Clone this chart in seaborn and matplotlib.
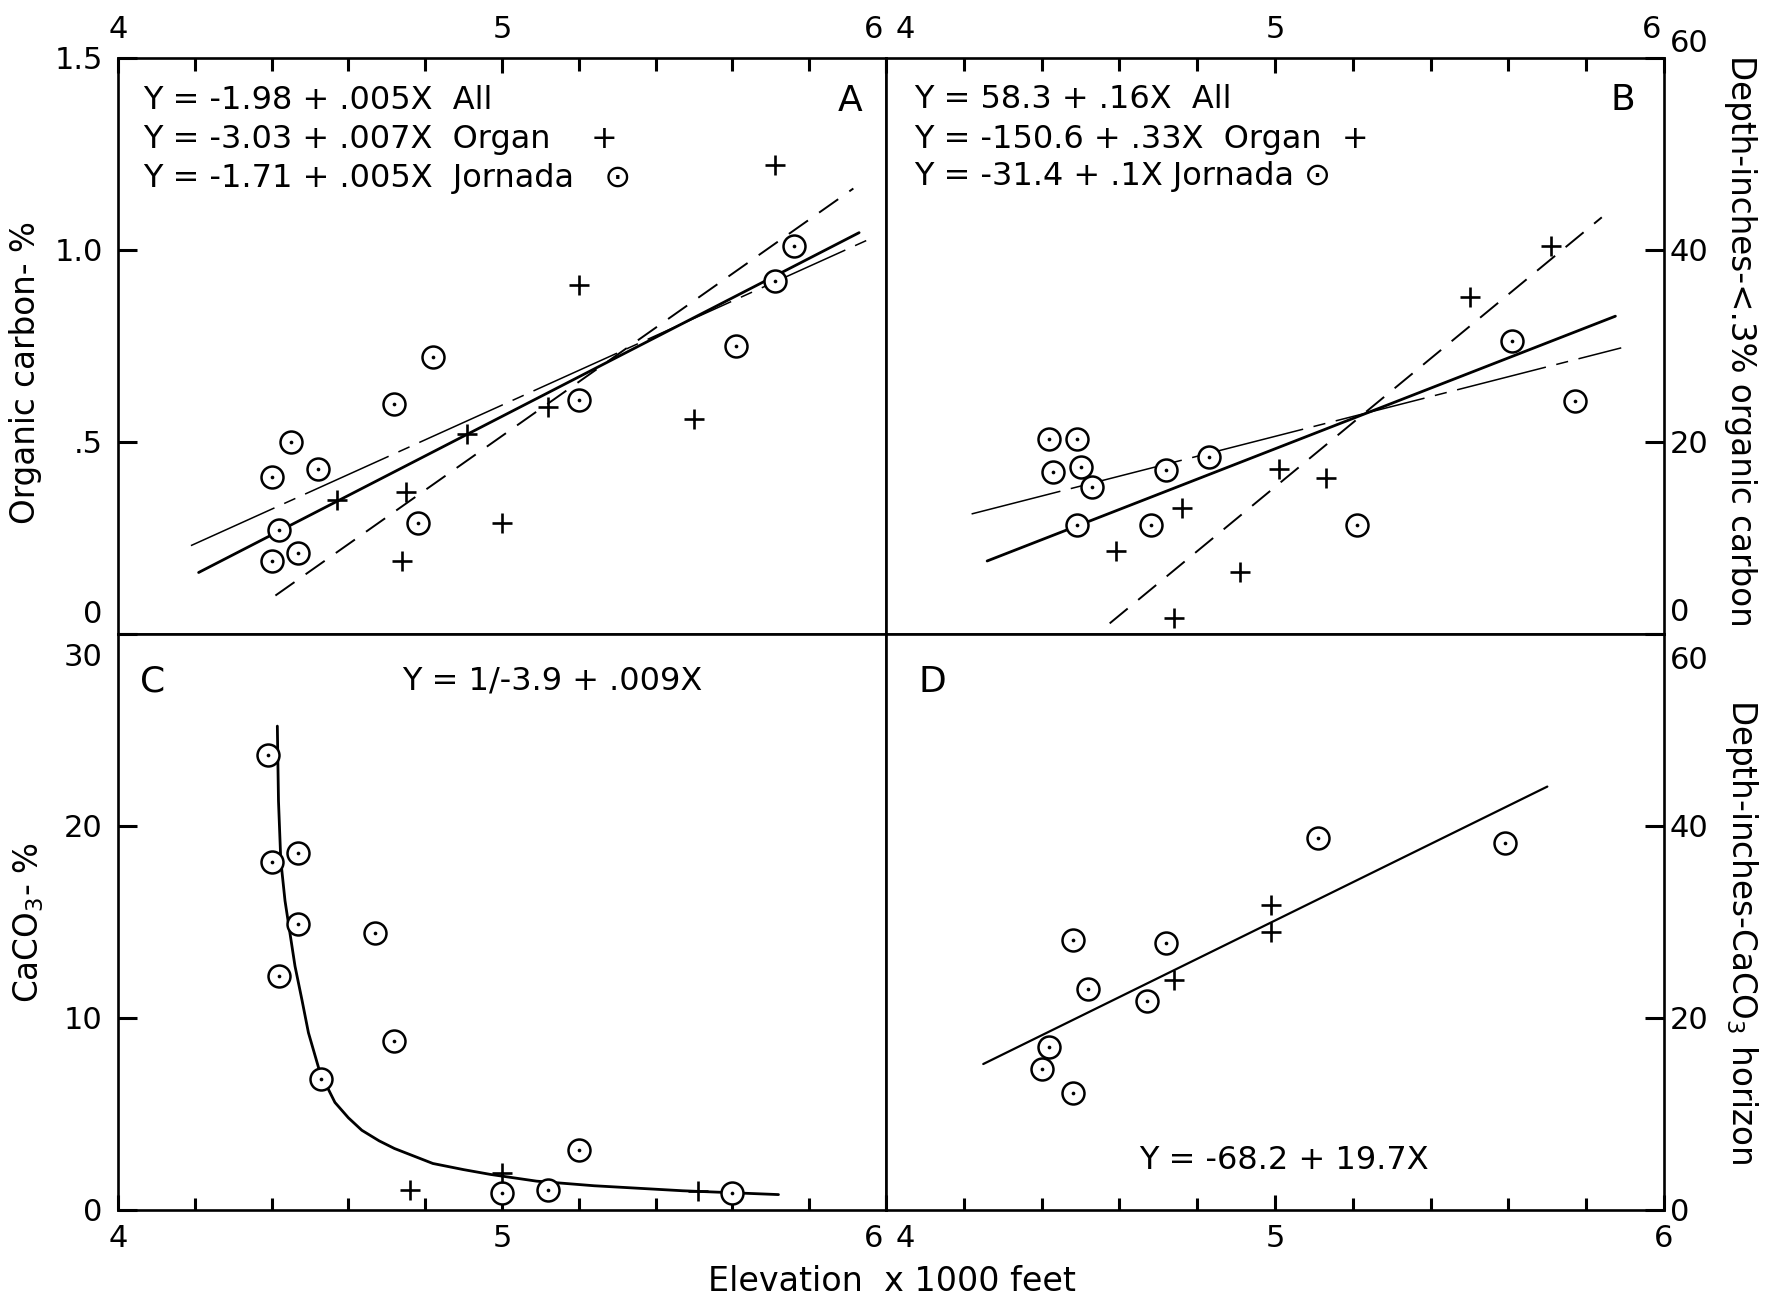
import matplotlib
matplotlib.use("Agg")
import matplotlib.pyplot as plt
from matplotlib.transforms import ScaledTranslation
import seaborn as sns

# ------------------------------------------------------------------ data
elev_major = [4, 5, 6]
elev_labels = ["4", "5", "6"]
elev_minor = [4.2, 4.4, 4.6, 4.8, 5.2, 5.4, 5.6, 5.8]

# Panel A  - organic carbon (%)
a_jor_x = [4.40, 4.45, 4.52, 4.42, 4.40, 4.47, 4.72, 4.82, 4.78, 5.20, 5.61, 5.71, 5.76]
a_jor_y = [0.41, 0.50, 0.43, 0.27, 0.19, 0.21, 0.60, 0.72, 0.29, 0.61, 0.75, 0.92, 1.01]
a_org_x = [4.57, 4.75, 4.74, 4.91, 5.00, 5.12, 5.20, 5.50, 5.71]
a_org_y = [0.35, 0.37, 0.19, 0.52, 0.29, 0.59, 0.91, 0.56, 1.22]
a_all_fit_x = [4.21, 5.93]
a_all_fit_y = [0.16, 1.045]
a_org_fit_x = [4.41, 5.915]
a_org_fit_y = [0.10, 1.16]
a_jor_fit_x = [4.19, 5.95]
a_jor_fit_y = [0.23, 1.025]
a_yticks = [0, 0.5, 1.0, 1.5]
a_ylabels = ["0", ".5", "1.0", "1.5"]

# Panel B  - depth (inches) to <.3% organic carbon
b_jor_x = [4.42, 4.49, 4.43, 4.50, 4.53, 4.49, 4.72, 4.83, 4.68, 5.21, 5.61, 5.77]
b_jor_y = [20.3, 20.3, 16.9, 17.4, 15.3, 11.3, 17.1, 18.4, 11.3, 11.3, 30.5, 24.3]
b_org_x = [4.59, 4.76, 4.91, 4.74, 5.01, 5.13, 5.50, 5.71]
b_org_y = [8.6, 13.1, 6.5, 1.7, 17.2, 16.2, 35.1, 40.4]
b_all_fit_x = [4.26, 5.875]
b_all_fit_y = [7.6, 33.1]
b_org_fit_x = [4.575, 5.84]
b_org_fit_y = [1.1, 43.4]
b_jor_fit_x = [4.22, 5.89]
b_jor_fit_y = [12.5, 29.8]
b_yticks = [0, 20, 40, 60]
b_ylabels = ["0", "20", "40", "60"]

# Panel C  - CaCO3 (%)
c_jor_x = [4.39, 4.40, 4.47, 4.47, 4.42, 4.67, 4.72, 4.53, 5.20, 5.00, 5.12, 5.60]
c_jor_y = [23.7, 18.1, 18.6, 14.9, 12.2, 14.4, 8.8, 6.8, 3.1, 0.88, 1.04, 0.87]
c_org_x = [4.76, 5.00, 5.51]
c_org_y = [1.06, 1.9, 0.97]
c_curve_x = [4.415, 4.418, 4.424, 4.435, 4.448, 4.461, 4.479, 4.496, 4.526,
             4.565, 4.60, 4.635, 4.68, 4.72, 4.82, 4.90, 4.97, 5.09, 5.24,
             5.47, 5.72]
c_curve_y = [25.2, 21.3, 18.2, 16.1, 14.4, 12.7, 10.95, 9.23, 7.16,
             5.6, 4.8, 4.15, 3.6, 3.2, 2.42, 2.1, 1.85, 1.5, 1.26,
             1.0, 0.8]
c_yticks = [0, 10, 20, 30]
c_ylabels = ["0", "10", "20", "30"]

# Panel D  - depth (inches) to CaCO3 horizon
d_jor_x = [4.48, 4.72, 4.52, 4.67, 4.42, 4.40, 4.48, 5.11, 5.59]
d_jor_y = [28.1, 27.8, 23.0, 21.8, 17.0, 14.7, 12.2, 38.7, 38.2]
d_org_x = [4.99, 4.99, 4.74]
d_org_y = [31.8, 29.0, 24.0]
d_fit_x = [4.25, 5.70]
d_fit_y = [15.2, 44.1]
d_yticks = [0, 20, 40, 60]
d_ylabels = ["0", "20", "40", "60"]

# ------------------------------------------------------------------ style
sns.set_theme(style="ticks")
plt.rcParams.update({
    "font.family": ["DejaVu Sans"],
    "axes.edgecolor": "black",
    "axes.linewidth": 1.9,
    "axes.axisbelow": False,
    "xtick.color": "black",
    "ytick.color": "black",
    "text.color": "black",
    "axes.labelcolor": "black",
    "axes.facecolor": "white",
    "figure.facecolor": "white",
})

TICK_FS = 22
TEXT_FS = 23
LABEL_FS = 23.5

fig, axes = plt.subplots(
    2, 2, figsize=(17.82, 13.02), dpi=100,
    gridspec_kw=dict(left=0.0662, right=0.9338, top=0.9555, bottom=0.0707,
                     wspace=0, hspace=0, width_ratios=[768, 778]))
ax_a, ax_b = axes[0]
ax_c, ax_d = axes[1]

ALL_STYLE = dict(color="black", linewidth=2.0)
JOR_STYLE = dict(color="black", linewidth=1.1, linestyle=(0, (60, 7, 8, 7)))
ORG_STYLE = dict(color="black", linewidth=1.4, linestyle=(0, (12, 7)))


def jornada(ax, x, y):
    sns.scatterplot(x=x, y=y, ax=ax, marker="o", s=250, color="white",
                    edgecolor="black", linewidth=1.8, zorder=4)
    sns.scatterplot(x=x, y=y, ax=ax, marker="o", s=7, color="black",
                    linewidth=0, zorder=5)


def organ(ax, x, y):
    sns.scatterplot(x=x, y=y, ax=ax, marker="+", s=220, color="black",
                    linewidth=1.9, zorder=4)


def fitline(ax, x, y, style):
    sns.lineplot(x=x, y=y, ax=ax, sort=False, estimator=None, errorbar=None,
                 zorder=3, **style)


def frame(ax, ylim, yticks, ylabels, top, right):
    ax.set_axisbelow(False)
    ax.set_xlim(4, 6)
    ax.set_ylim(*ylim)
    ax.set_xticks(elev_major)
    ax.set_xticklabels(elev_labels)
    ax.set_xticks(elev_minor, minor=True)
    ax.set_yticks(yticks)
    ax.set_yticklabels(ylabels)
    if top:
        ax.tick_params(axis="x", which="both", top=True, bottom=False,
                       labeltop=True, labelbottom=False)
    else:
        ax.tick_params(axis="x", which="both", top=False, bottom=True,
                       labeltop=False, labelbottom=True)
    if right:
        ax.tick_params(axis="y", which="both", left=False, right=True,
                       labelleft=False, labelright=True)
    else:
        ax.tick_params(axis="y", which="both", left=True, right=False,
                       labelleft=True, labelright=False)
    ax.tick_params(axis="x", which="major", direction="in", length=11,
                   width=2.2, pad=10, labelsize=TICK_FS, color="black")
    ax.tick_params(axis="x", which="minor", direction="in", length=9,
                   width=2.2, color="black")
    ax.tick_params(axis="y", which="major", direction="in", length=14,
                   width=2.2, pad=4 if right else 11, labelsize=TICK_FS,
                   color="black")
    for sp in ax.spines.values():
        sp.set_visible(True)
        sp.set_linewidth(1.9)
        sp.set_color("black")
    ax.set_xlabel("")
    ax.set_ylabel("")


# ---- Panel A
fitline(ax_a, a_jor_fit_x, a_jor_fit_y, JOR_STYLE)
fitline(ax_a, a_org_fit_x, a_org_fit_y, ORG_STYLE)
fitline(ax_a, a_all_fit_x, a_all_fit_y, ALL_STYLE)
jornada(ax_a, a_jor_x, a_jor_y)
organ(ax_a, a_org_x, a_org_y)
frame(ax_a, (0, 1.5), a_yticks, a_ylabels, top=True, right=False)

# ---- Panel B
fitline(ax_b, b_jor_fit_x, b_jor_fit_y, JOR_STYLE)
fitline(ax_b, b_org_fit_x, b_org_fit_y, ORG_STYLE)
fitline(ax_b, b_all_fit_x, b_all_fit_y, ALL_STYLE)
jornada(ax_b, b_jor_x, b_jor_y)
organ(ax_b, b_org_x, b_org_y)
frame(ax_b, (0, 60), b_yticks, b_ylabels, top=True, right=True)

# ---- Panel C
sns.lineplot(x=c_curve_x, y=c_curve_y, ax=ax_c, sort=False, estimator=None,
             errorbar=None, color="black", linewidth=2.0, zorder=3)
jornada(ax_c, c_jor_x, c_jor_y)
organ(ax_c, c_org_x, c_org_y)
frame(ax_c, (0, 30), c_yticks, c_ylabels, top=False, right=False)

# ---- Panel D
fitline(ax_d, d_fit_x, d_fit_y, dict(color="black", linewidth=1.6))
jornada(ax_d, d_jor_x, d_jor_y)
organ(ax_d, d_org_x, d_org_y)
frame(ax_d, (0, 60), d_yticks, d_ylabels, top=False, right=True)


# ---- tick label placement at panel corners
def place(label, ha=None, va=None, dx=0, dy=0):
    if ha is not None:
        label.set_ha(ha)
    if va is not None:
        label.set_va(va)
    if dx or dy:
        label.set_transform(label.get_transform() +
                            ScaledTranslation(dx / 100, dy / 100,
                                              fig.dpi_scale_trans))


xa = ax_a.get_xticklabels()
place(xa[2], ha="right", dx=-3)
xb = ax_b.get_xticklabels()
place(xb[0], ha="left", dx=10)
place(xb[2], ha="right", dx=-3)
xc = ax_c.get_xticklabels()
place(xc[2], ha="right", dx=-3)
xd = ax_d.get_xticklabels()
place(xd[0], ha="left", dx=10)

ya = ax_a.get_yticklabels()
place(ya[0], va="bottom", dy=5)
yb = ax_b.get_yticklabels()
place(yb[0], va="bottom", dy=7)
place(yb[3], va="bottom")
yc = ax_c.get_yticklabels()
place(yc[3], va="top", dy=-9)
yd = ax_d.get_yticklabels()
place(yd[3], va="top", dy=-12)

# ---- annotations
a_eq = ["Y = -1.98 + .005X  All",
        "Y = -3.03 + .007X  Organ    +",
        "Y = -1.71 + .005X  Jornada   \u2299"]
for txt, yy in zip(a_eq, [0.926, 0.858, 0.790]):
    ax_a.text(0.033, yy, txt, transform=ax_a.transAxes, fontsize=TEXT_FS,
              ha="left", va="center")
ax_a.text(0.953, 0.926, "A", transform=ax_a.transAxes, fontsize=26,
          ha="center", va="center")

b_eq = ["Y = 58.3 + .16X  All",
        "Y = -150.6 + .33X  Organ  +",
        "Y = -31.4 + .1X Jornada \u2299"]
for txt, yy in zip(b_eq, [0.927, 0.859, 0.795]):
    ax_b.text(0.036, yy, txt, transform=ax_b.transAxes, fontsize=TEXT_FS,
              ha="left", va="center")
ax_b.text(0.947, 0.927, "B", transform=ax_b.transAxes, fontsize=26,
          ha="center", va="center")

ax_c.text(0.045, 0.918, "C", transform=ax_c.transAxes, fontsize=26,
          ha="center", va="center")
ax_c.text(0.566, 0.918, "Y = 1/-3.9 + .009X", transform=ax_c.transAxes,
          fontsize=TEXT_FS, ha="center", va="center")

ax_d.text(0.059, 0.917, "D", transform=ax_d.transAxes, fontsize=26,
          ha="center", va="center")
ax_d.text(0.512, 0.085, "Y = -68.2 + 19.7X", transform=ax_d.transAxes,
          fontsize=TEXT_FS, ha="center", va="center")

# ---- axis labels
ax_a.set_ylabel("Organic carbon- %", fontsize=LABEL_FS, va="center", ha="center")
ax_a.yaxis.set_label_coords(-0.121, 0.453)
ax_c.set_ylabel("CaCO$_3$- %", fontsize=LABEL_FS, va="center", ha="center")
ax_c.yaxis.set_label_coords(-0.116, 0.498)

ax_b.yaxis.set_label_position("right")
ax_b.set_ylabel("Depth-inches-<.3% organic carbon", fontsize=LABEL_FS,
                rotation=270, va="center", ha="center")
ax_b.yaxis.set_label_coords(1.098, 0.509)
ax_d.yaxis.set_label_position("right")
ax_d.set_ylabel("Depth-inches-CaCO$_3$ horizon", fontsize=LABEL_FS,
                rotation=270, va="center", ha="center")
ax_d.yaxis.set_label_coords(1.099, 0.483)

fig.text(0.5006, 0.0154, "Elevation  x 1000 feet", fontsize=24,
         ha="center", va="center")

fig.savefig("out.png", dpi=100)
